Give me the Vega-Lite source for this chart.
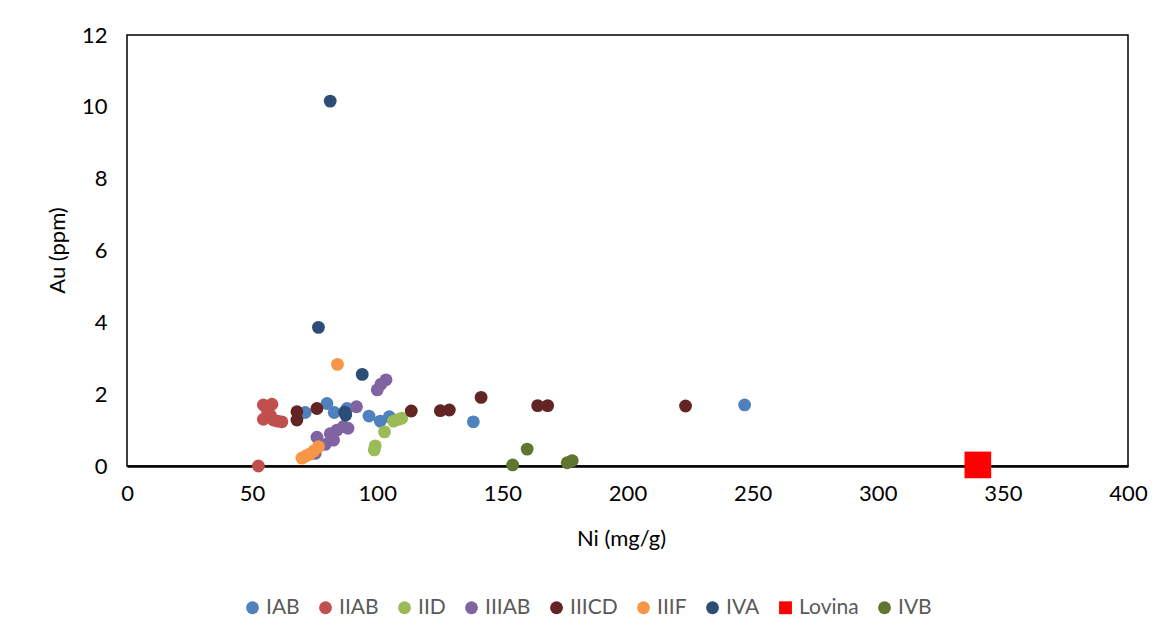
{
  "$schema": "https://vega.github.io/schema/vega-lite/v6.json",
  "width": 1001,
  "height": 431,
  "autosize": "none",
  "padding": {"left": 127, "top": 35, "right": 32, "bottom": 176},
  "background": "white",
  "config": {"view": {"stroke": "black", "strokeWidth": 1.5}, "font": "Lato"},
  "data": {"values": [
    {"Series": "IAB", "Ni": 71.2, "Au": 1.49},
    {"Series": "IAB", "Ni": 79.9, "Au": 1.74},
    {"Series": "IAB", "Ni": 82.8, "Au": 1.49},
    {"Series": "IAB", "Ni": 87.9, "Au": 1.6},
    {"Series": "IAB", "Ni": 96.7, "Au": 1.39},
    {"Series": "IAB", "Ni": 101.2, "Au": 1.25},
    {"Series": "IAB", "Ni": 104.8, "Au": 1.37},
    {"Series": "IAB", "Ni": 138.4, "Au": 1.23},
    {"Series": "IAB", "Ni": 246.8, "Au": 1.7},
    {"Series": "IIAB", "Ni": 54.5, "Au": 1.7},
    {"Series": "IIAB", "Ni": 57.9, "Au": 1.72},
    {"Series": "IIAB", "Ni": 56.2, "Au": 1.5},
    {"Series": "IIAB", "Ni": 57.2, "Au": 1.42},
    {"Series": "IIAB", "Ni": 54.5, "Au": 1.3},
    {"Series": "IIAB", "Ni": 58.5, "Au": 1.28},
    {"Series": "IIAB", "Ni": 60.2, "Au": 1.25},
    {"Series": "IIAB", "Ni": 61.9, "Au": 1.23},
    {"Series": "IIAB", "Ni": 52.5, "Au": 0.0},
    {"Series": "IID", "Ni": 98.8, "Au": 0.45},
    {"Series": "IID", "Ni": 99.2, "Au": 0.56},
    {"Series": "IID", "Ni": 102.9, "Au": 0.95},
    {"Series": "IID", "Ni": 106.5, "Au": 1.25},
    {"Series": "IID", "Ni": 108.5, "Au": 1.3},
    {"Series": "IID", "Ni": 109.8, "Au": 1.33},
    {"Series": "IIIAB", "Ni": 100.0, "Au": 2.12},
    {"Series": "IIIAB", "Ni": 101.5, "Au": 2.28},
    {"Series": "IIIAB", "Ni": 103.5, "Au": 2.4},
    {"Series": "IIIAB", "Ni": 91.7, "Au": 1.65},
    {"Series": "IIIAB", "Ni": 75.9, "Au": 0.8},
    {"Series": "IIIAB", "Ni": 79.2, "Au": 0.6},
    {"Series": "IIIAB", "Ni": 81.2, "Au": 0.9},
    {"Series": "IIIAB", "Ni": 82.5, "Au": 0.72},
    {"Series": "IIIAB", "Ni": 83.9, "Au": 1.0},
    {"Series": "IIIAB", "Ni": 86.5, "Au": 1.1},
    {"Series": "IIIAB", "Ni": 88.3, "Au": 1.05},
    {"Series": "IIIAB", "Ni": 75.2, "Au": 0.35},
    {"Series": "IIICD", "Ni": 67.9, "Au": 1.51},
    {"Series": "IIICD", "Ni": 67.9, "Au": 1.28},
    {"Series": "IIICD", "Ni": 75.9, "Au": 1.6},
    {"Series": "IIICD", "Ni": 113.6, "Au": 1.53},
    {"Series": "IIICD", "Ni": 125.2, "Au": 1.54},
    {"Series": "IIICD", "Ni": 128.8, "Au": 1.56},
    {"Series": "IIICD", "Ni": 141.5, "Au": 1.91},
    {"Series": "IIICD", "Ni": 164.1, "Au": 1.68},
    {"Series": "IIICD", "Ni": 168.1, "Au": 1.68},
    {"Series": "IIICD", "Ni": 223.2, "Au": 1.67},
    {"Series": "IIIF", "Ni": 84.1, "Au": 2.83},
    {"Series": "IIIF", "Ni": 69.9, "Au": 0.22},
    {"Series": "IIIF", "Ni": 71.5, "Au": 0.28},
    {"Series": "IIIF", "Ni": 73.0, "Au": 0.33},
    {"Series": "IIIF", "Ni": 74.7, "Au": 0.42},
    {"Series": "IIIF", "Ni": 76.5, "Au": 0.54},
    {"Series": "IVA", "Ni": 81.2, "Au": 10.16},
    {"Series": "IVA", "Ni": 76.5, "Au": 3.86},
    {"Series": "IVA", "Ni": 94.0, "Au": 2.55},
    {"Series": "IVA", "Ni": 87.0, "Au": 1.5},
    {"Series": "IVA", "Ni": 87.4, "Au": 1.42},
    {"Series": "Lovina", "Ni": 340.0, "Au": 0.03},
    {"Series": "IVB", "Ni": 154.1, "Au": 0.03},
    {"Series": "IVB", "Ni": 159.9, "Au": 0.47},
    {"Series": "IVB", "Ni": 175.9, "Au": 0.09},
    {"Series": "IVB", "Ni": 177.9, "Au": 0.15}
  ]},
  "mark": {"type": "point", "filled": true, "opacity": 1, "strokeWidth": 0},
  "encoding": {
    "x": {
      "field": "Ni", "type": "quantitative",
      "scale": {"domain": [0, 400], "nice": false, "zero": false},
      "axis": {
        "title": "Ni (mg/g)", "values": [0, 50, 100, 150, 200, 250, 300, 350, 400],
        "grid": false, "ticks": false, "domainColor": "black", "domainWidth": 2.5,
        "labelFontSize": 22, "labelColor": "black", "labelPadding": 17, "labelFlush": false,
        "titleFontSize": 22, "titleFontWeight": "normal", "titleColor": "black",
        "titleX": 494, "titleY": 62, "titleBaseline": "top"
      }
    },
    "y": {
      "field": "Au", "type": "quantitative",
      "scale": {"domain": [0, 12], "nice": false},
      "axis": {
        "title": "Au (ppm)", "values": [0, 2, 4, 6, 8, 10, 12],
        "grid": false, "ticks": false, "domain": false,
        "labelFontSize": 22, "labelColor": "black", "labelPadding": 20, "labelFlush": false,
        "titleFontSize": 22, "titleFontWeight": "normal", "titleColor": "black",
        "titleX": -58, "titleY": 215, "titleBaseline": "bottom"
      }
    },
    "color": {
      "field": "Series", "type": "nominal",
      "scale": {
        "domain": ["IAB", "IIAB", "IID", "IIIAB", "IIICD", "IIIF", "IVA", "Lovina", "IVB"],
        "range": ["#4F81BD", "#C0504D", "#9BBB59", "#8064A2", "#632523", "#F79646", "#2C4D75", "#FF0000", "#5F7530"]
      },
      "legend": {
        "title": null, "orient": "none", "direction": "horizontal", "columns": 9,
        "legendX": 115, "legendY": 562,
        "labelFontSize": 21, "labelColor": "#595959", "labelOffset": 3,
        "columnPadding": 15, "symbolSize": 165, "symbolStrokeWidth": 0, "symbolOpacity": 1
      }
    },
    "shape": {
      "field": "Series", "type": "nominal",
      "scale": {
        "domain": ["IAB", "IIAB", "IID", "IIIAB", "IIICD", "IIIF", "IVA", "Lovina", "IVB"],
        "range": ["circle", "circle", "circle", "circle", "circle", "circle", "circle", "square", "circle"]
      }
    },
    "size": {"condition": {"test": "datum.Series === 'Lovina'", "value": 711}, "value": 165}
  }
}
